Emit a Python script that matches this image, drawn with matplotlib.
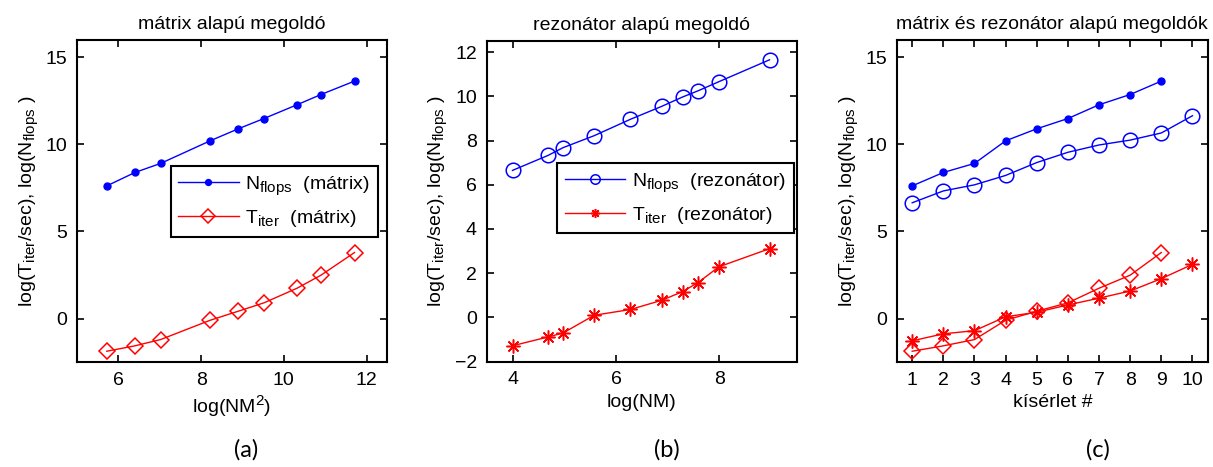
import numpy as np
import matplotlib.pyplot as plt
import matplotlib._mathtext as mathtext_impl

plt.rcParams['font.family'] = ['Liberation Sans', 'DejaVu Sans']
plt.rcParams['mathtext.default'] = 'regular'
# slightly larger sub/superscripts than the mathtext default
mathtext_impl.SHRINK_FACTOR = 0.78

# matrix based solver: log(NM^2), log(N_flops), log(T_iter)
mat_x = [5.72, 6.40, 7.02, 8.22, 8.90, 9.52, 10.32, 10.90, 11.71]
mat_flops = [7.62, 8.39, 8.91, 10.21, 10.90, 11.49, 12.28, 12.87, 13.64]
mat_titer = [-1.88, -1.57, -1.21, -0.10, 0.42, 0.90, 1.74, 2.49, 3.79]

# resonator based solver: log(NM), log(N_flops), log(T_iter)
rez_x = [4.0, 4.69, 4.98, 5.58, 6.28, 6.89, 7.29, 7.59, 7.99, 8.97]
rez_flops = [6.65, 7.33, 7.68, 8.22, 8.96, 9.55, 9.97, 10.25, 10.66, 11.65]
rez_titer = [-1.28, -0.88, -0.70, 0.10, 0.36, 0.78, 1.17, 1.58, 2.29, 3.11]

ylabel = 'log(T$_{iter}$/sec), log(N$_{flops}$ )'
star = (8, 2, 0)
FS = 14

fig = plt.figure(figsize=(12.13, 4.67), dpi=100)


def style_axes(ax):
    for s in ax.spines.values():
        s.set_linewidth(1.5)
    ax.tick_params(direction='in', top=True, right=True, length=5,
                   width=1.2, labelsize=FS, pad=7)
    ax.set_ylabel(ylabel, fontsize=FS, labelpad=4)


def boxed_legend(ax, bbox, mscale):
    leg = ax.legend(loc='center', bbox_to_anchor=bbox, fontsize=FS,
                    fancybox=False, edgecolor='k', framealpha=1,
                    handlelength=3.1, handletextpad=0.35,
                    markerscale=mscale, borderpad=0.4, labelspacing=0.55)
    leg.get_frame().set_linewidth(1.5)


# (a) matrix solver
ax1 = fig.add_axes([0.0635, 0.2248, 0.2557, 0.6895])
ax1.plot(mat_x, mat_flops, '-', color='b', marker='o', ms=5, lw=1,
         label='N$_{flops}$  (mátrix)')
ax1.plot(mat_x, mat_titer, '-', color='r', marker='D', ms=8, mfc='none',
         mew=1.1, lw=1, label='T$_{iter}$  (mátrix)')
ax1.set_xlim(5, 12.5)
ax1.set_ylim(-2.5, 16)
ax1.set_xticks([6, 8, 10, 12])
ax1.set_yticks([0, 5, 10, 15])
ax1.set_xlabel('log(NM$^2$)', fontsize=FS)
ax1.set_title('mátrix alapú megoldó', fontsize=FS, pad=8)
style_axes(ax1)
boxed_legend(ax1, (0.297, 0.373, 0.677, 0.251), 0.85)

# (b) resonator solver
ax2 = fig.add_axes([0.4012, 0.2255, 0.2558, 0.6867])
ax2.plot(rez_x, rez_flops, '-', color='b', marker='o', ms=10.5, mfc='none',
         mew=1.1, lw=1, label='N$_{flops}$  (rezonátor)')
ax2.plot(rez_x, rez_titer, '-', color='r', marker=star, ms=10, mew=1.1,
         lw=1, label='T$_{iter}$  (rezonátor)')
ax2.set_xlim(3.5, 9.5)
ax2.set_ylim(-2, 12.5)
ax2.set_xticks([4, 6, 8])
ax2.set_yticks([-2, 0, 2, 4, 6, 8, 10, 12])
ax2.set_xlabel('log(NM)', fontsize=FS)
ax2.set_title('rezonátor alapú megoldó', fontsize=FS, pad=8)
style_axes(ax2)
boxed_legend(ax2, (0.2256, 0.3835, 0.7644, 0.2515), 0.65)

# (c) both solvers per experiment
ax3 = fig.add_axes([0.7392, 0.2248, 0.2567, 0.6895])
run_mat = np.arange(1, len(mat_x) + 1)
run_rez = np.arange(1, len(rez_x) + 1)
ax3.plot(run_mat, mat_flops, '-', color='b', marker='o', ms=5, lw=1)
ax3.plot(run_rez, rez_flops, '-', color='b', marker='o', ms=10.5, mfc='none',
         mew=1.1, lw=1)
ax3.plot(run_mat, mat_titer, '-', color='r', marker='D', ms=8, mfc='none',
         mew=1.1, lw=1)
ax3.plot(run_rez, rez_titer, '-', color='r', marker=star, ms=10, mew=1.1, lw=1)
ax3.set_xlim(0.5, 10.5)
ax3.set_ylim(-2.5, 16)
ax3.set_xticks(run_rez)
ax3.set_yticks([0, 5, 10, 15])
ax3.set_xlabel('kísérlet #', fontsize=FS)
ax3.set_title('mátrix és rezonátor alapú megoldók', fontsize=FS, pad=8)
style_axes(ax3)

for x, s in [(246, '(a)'), (667, '(b)'), (1098, '(c)')]:
    fig.text(x / 1213, 0.036, s, ha='center', va='center', fontsize=17,
             family=['Lato', 'DejaVu Sans'])

fig.savefig('out.png', dpi=100)
